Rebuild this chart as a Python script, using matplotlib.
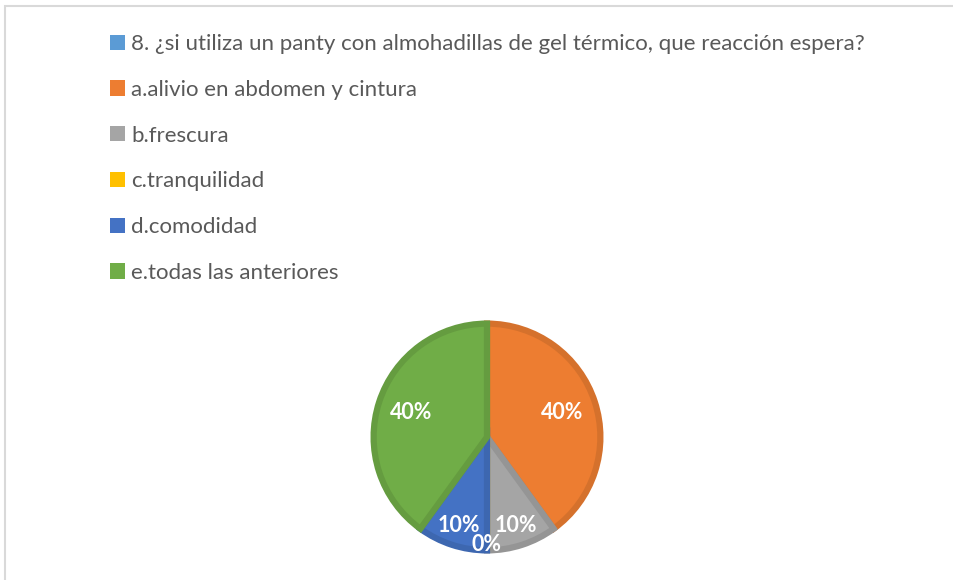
import matplotlib
matplotlib.use('Agg')
from matplotlib import pyplot as plt
from matplotlib.patches import Patch, Rectangle
import matplotlib.colors as mcolors
import numpy as np

# Data
categories = ['8. ¿si utiliza un panty con almohadillas de gel térmico, que reacción espera?',
              'a.alivio en abdomen y cintura',
              'b.frescura',
              'c.tranquilidad',
              'd.comodidad',
              'e.todas las anteriores']
values = [0, 40, 10, 0, 10, 40]
colors = ['#5b9bd5', '#ed7d31', '#a5a5a5', '#ffc000', '#4472c4', '#70ad47']

plt.rcParams['font.family'] = ['Lato', 'DejaVu Sans']


def darker(c, f=0.9):
    r, g, b = mcolors.to_rgb(c)
    return (r * f, g * f, b * f)


fig = plt.figure(figsize=(9.54, 5.8), dpi=100)

# Chart frame (left and top edges visible)
fig.patches.append(Rectangle((5 / 954, -0.01), 1.1, (574 + 6) / 580, transform=fig.transFigure,
                             fill=False, edgecolor='#d9d9d9', linewidth=1.5))

ax = fig.add_axes([369 / 954, 25 / 580, 236 / 954, 236 / 580])
# header category has no value, draw the answer slices
pie_vals = values[1:]
pie_cols = colors[1:]
wedges, texts, autotexts = ax.pie(
    pie_vals, colors=pie_cols, startangle=90, counterclock=False,
    autopct='%1.0f%%', pctdistance=0.7, radius=0.98,
    wedgeprops=dict(linewidth=4.5))
for w, c, t, v in zip(wedges, pie_cols, autotexts, pie_vals):
    w.set_edgecolor(darker(c))
    t.set_color('white')
    t.set_fontsize(15.5)
    t.set_fontweight('bold')
    # small slices: push labels further out like Excel does
    if v < 20:
        d = 0.93 if v == 0 else 0.8
        ang = np.deg2rad((w.theta1 + w.theta2) / 2)
        t.set_position((d * np.cos(ang), d * np.sin(ang)))
ax.set_aspect('equal')
ax.set_xlim(-1.02, 1.02)
ax.set_ylim(-1.02, 1.02)

# Legend
handles = [Patch(facecolor=c, edgecolor='none') for c in colors]
leg = fig.legend(handles, categories, loc='upper left',
                 bbox_to_anchor=(110 / 954, 1 - 34 / 580),
                 frameon=False, fontsize=16, handlelength=0.68, handleheight=0.68,
                 handletextpad=0.27, labelspacing=1.16, borderpad=0, borderaxespad=0)
for t in leg.get_texts():
    t.set_color('#595959')

fig.savefig('out.png', dpi=100)
